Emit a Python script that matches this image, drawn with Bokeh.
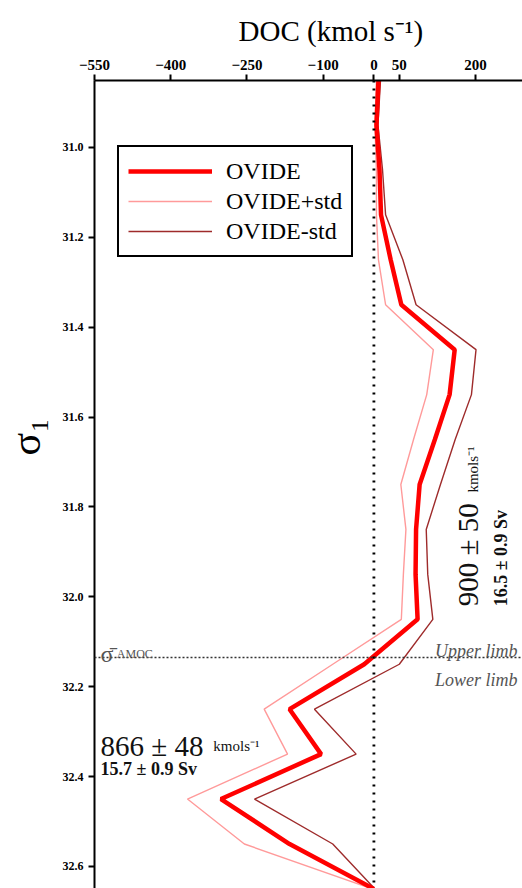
from bokeh.plotting import figure
from bokeh.models import (Range1d, FixedTicker, Span, Label, Legend, LegendItem,
                          PrintfTickFormatter, Title)
from bokeh.embed import file_html
from bokeh.resources import INLINE

# Potential density bins (sigma-1) and DOC transport per bin (kmol s-1)
sigma1 = [30.85, 30.95, 31.05, 31.15, 31.25, 31.35, 31.45, 31.55, 31.65, 31.75,
          31.85, 31.95, 32.05, 32.15, 32.25, 32.35, 32.45, 32.55, 32.65]
ovide = [9, 5, 11, 14, 33, 54, 159, 149, 120, 90,
         83, 82, 86, -19, -166, -104, -301, -166, 0]
ovide_plus_std = [5, 2, 5, 5, 9, 23, 117, 104, 78, 53,
                  63, 58, 54, -81, -216, -170, -367, -255, -3]
ovide_minus_std = [13, 8, 17, 23, 57, 83, 201, 192, 160, 131,
                   103, 106, 116, 50, -117, -35, -235, -81, 2]

x_ticks = [-550, -400, -250, -100, 0, 50, 200]
y_ticks = [31.0, 31.2, 31.4, 31.6, 31.8, 32.0, 32.2, 32.4, 32.6]
sigma_amoc = 32.135

SERIF = "Liberation Serif"

p = figure(width=522, height=888,
           x_range=Range1d(-550, 292.5), y_range=Range1d(32.649, 30.851),
           x_axis_location="above", output_backend="svg", toolbar_location=None,
           min_border_left=94, min_border_top=80, min_border_right=0,
           min_border_bottom=0)
p.outline_line_color = None
p.xgrid.visible = False
p.ygrid.visible = False
p.background_fill_color = "white"
p.border_fill_color = "white"

# axes
for ax in (p.xaxis[0], p.yaxis[0]):
    ax.axis_line_width = 2
    ax.axis_line_color = "black"
    ax.major_tick_line_width = 2
    ax.major_tick_in = 0
    ax.major_tick_out = 6
    ax.minor_tick_line_color = None
    ax.major_label_text_font = SERIF
    ax.major_label_text_font_style = "bold"
    ax.major_label_text_color = "black"
    ax.major_label_standoff = 5

p.xaxis.ticker = FixedTicker(ticks=x_ticks, minor_ticks=[])
p.xaxis.major_label_text_font_size = "15px"

p.yaxis.ticker = FixedTicker(ticks=y_ticks, minor_ticks=[])
p.yaxis.formatter = PrintfTickFormatter(format="%.1f")
p.yaxis.major_label_text_font_size = "12px"
# blank axis label keeps a gap between the tick labels and the sigma title
p.yaxis.axis_label = "\u00a0"
p.yaxis.axis_label_text_font_size = "1px"
p.yaxis.axis_label_standoff = 7

# axis titles
p.add_layout(Title(text="DOC (kmol s\u207b\u00b9)", align="left", offset=144,
                   text_font=SERIF, text_font_size="29px",
                   text_font_style="normal", text_color="black", standoff=20),
             "above")
p.add_layout(Title(text="\u03c3\u2081", align="left", offset=433,
                   text_font=SERIF, text_font_size="42px",
                   text_font_style="normal", text_color="black", standoff=0),
             "left")

# reference lines: zero transport and the AMOC density
p.add_layout(Span(location=0, dimension="height", line_color="black",
                  line_width=2.8, line_dash="2 6"))
p.add_layout(Span(location=sigma_amoc, dimension="width", line_color="#333333",
                  line_width=1.3, line_dash="2 2"))

# transport profiles
r_plus = p.line(ovide_plus_std, sigma1, line_color="#ff9a9a", line_width=1.4)
r_minus = p.line(ovide_minus_std, sigma1, line_color="#9e2b2b", line_width=1.4)
r_main = p.line(ovide, sigma1, line_color="#ff0000", line_width=4.5)

legend = Legend(items=[LegendItem(label="OVIDE", renderers=[r_main]),
                       LegendItem(label="OVIDE+std", renderers=[r_plus]),
                       LegendItem(label="OVIDE-std", renderers=[r_minus])],
                location=(23, 631), orientation="vertical",
                border_line_color="black", border_line_width=2,
                border_line_alpha=1.0,
                background_fill_alpha=1, padding=9, spacing=0, margin=0,
                glyph_width=84, glyph_height=30, label_height=30,
                label_standoff=14,
                label_text_font=SERIF, label_text_font_size="24px",
                label_text_color="black")
p.add_layout(legend)

# AMOC density marker and limb names
p.add_layout(Label(x=-538, y=32.128, text="\u03c3\u0304", text_font=SERIF,
                   text_font_size="24px", text_color="#555555",
                   text_baseline="alphabetic"))
p.add_layout(Label(x=-506, y=32.128, text="AMOC", text_font=SERIF,
                   text_font_size="12px", text_color="#555555",
                   text_baseline="alphabetic"))
p.add_layout(Label(x=282.5, y=32.1215, text="Upper limb", text_font=SERIF,
                   text_font_style="italic", text_font_size="18px",
                   text_color="#555555", text_align="right",
                   text_baseline="alphabetic"))
p.add_layout(Label(x=282.5, y=32.184, text="Lower limb", text_font=SERIF,
                   text_font_style="italic", text_font_size="18px",
                   text_color="#555555", text_align="right",
                   text_baseline="alphabetic"))

# integrated transports, lower limb
p.add_layout(Label(x=-538, y=32.331, text="866 \u00b1 48", text_font=SERIF,
                   text_font_size="29px", text_color="#111111",
                   text_baseline="alphabetic"))
p.add_layout(Label(x=-316, y=32.331, text="kmols\u207b\u00b9", text_font=SERIF,
                   text_font_size="15px", text_color="#111111",
                   text_baseline="alphabetic"))
p.add_layout(Label(x=-538, y=32.382, text="15.7 \u00b1 0.9 Sv", text_font=SERIF,
                   text_font_style="bold", text_font_size="18px",
                   text_color="#111111", text_baseline="alphabetic"))

# integrated transports, upper limb (rotated)
p.add_layout(Label(x=186, y=32.021, text="900 \u00b1 50", text_font=SERIF,
                   text_font_size="29px", text_color="#111111",
                   angle=90, angle_units="deg", text_baseline="alphabetic"))
p.add_layout(Label(x=195, y=31.768, text="kmols\u207b\u00b9", text_font=SERIF,
                   text_font_size="15px", text_color="#111111",
                   angle=90, angle_units="deg", text_baseline="alphabetic"))
p.add_layout(Label(x=250, y=32.021, text="16.5 \u00b1 0.9 Sv", text_font=SERIF,
                   text_font_style="bold", text_font_size="18px",
                   text_color="#111111", angle=90, angle_units="deg",
                   text_baseline="alphabetic"))

open("out.html", "w").write(file_html(p, INLINE))
